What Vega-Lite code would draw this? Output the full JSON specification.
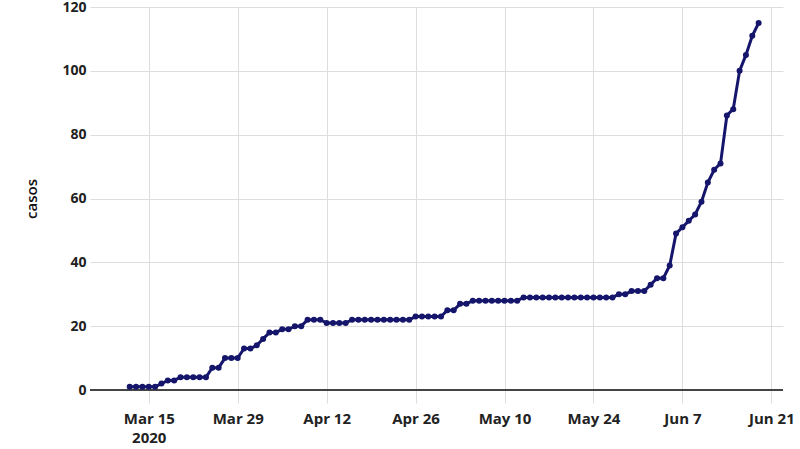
{
  "$schema": "https://vega.github.io/schema/vega-lite/v6.json",
  "width": 693,
  "height": 383,
  "autosize": {"type": "none"},
  "padding": {"left": 90, "top": 7, "right": 17, "bottom": 59},
  "background": "white",
  "config": {
    "view": {"stroke": null},
    "font": "Open Sans"
  },
  "data": {
    "values": [
      {"fecha": "2020-03-12", "casos": 1},
      {"fecha": "2020-03-13", "casos": 1},
      {"fecha": "2020-03-14", "casos": 1},
      {"fecha": "2020-03-15", "casos": 1},
      {"fecha": "2020-03-16", "casos": 1},
      {"fecha": "2020-03-17", "casos": 2},
      {"fecha": "2020-03-18", "casos": 3},
      {"fecha": "2020-03-19", "casos": 3},
      {"fecha": "2020-03-20", "casos": 4},
      {"fecha": "2020-03-21", "casos": 4},
      {"fecha": "2020-03-22", "casos": 4},
      {"fecha": "2020-03-23", "casos": 4},
      {"fecha": "2020-03-24", "casos": 4},
      {"fecha": "2020-03-25", "casos": 7},
      {"fecha": "2020-03-26", "casos": 7},
      {"fecha": "2020-03-27", "casos": 10},
      {"fecha": "2020-03-28", "casos": 10},
      {"fecha": "2020-03-29", "casos": 10},
      {"fecha": "2020-03-30", "casos": 13},
      {"fecha": "2020-03-31", "casos": 13},
      {"fecha": "2020-04-01", "casos": 14},
      {"fecha": "2020-04-02", "casos": 16},
      {"fecha": "2020-04-03", "casos": 18},
      {"fecha": "2020-04-04", "casos": 18},
      {"fecha": "2020-04-05", "casos": 19},
      {"fecha": "2020-04-06", "casos": 19},
      {"fecha": "2020-04-07", "casos": 20},
      {"fecha": "2020-04-08", "casos": 20},
      {"fecha": "2020-04-09", "casos": 22},
      {"fecha": "2020-04-10", "casos": 22},
      {"fecha": "2020-04-11", "casos": 22},
      {"fecha": "2020-04-12", "casos": 21},
      {"fecha": "2020-04-13", "casos": 21},
      {"fecha": "2020-04-14", "casos": 21},
      {"fecha": "2020-04-15", "casos": 21},
      {"fecha": "2020-04-16", "casos": 22},
      {"fecha": "2020-04-17", "casos": 22},
      {"fecha": "2020-04-18", "casos": 22},
      {"fecha": "2020-04-19", "casos": 22},
      {"fecha": "2020-04-20", "casos": 22},
      {"fecha": "2020-04-21", "casos": 22},
      {"fecha": "2020-04-22", "casos": 22},
      {"fecha": "2020-04-23", "casos": 22},
      {"fecha": "2020-04-24", "casos": 22},
      {"fecha": "2020-04-25", "casos": 22},
      {"fecha": "2020-04-26", "casos": 23},
      {"fecha": "2020-04-27", "casos": 23},
      {"fecha": "2020-04-28", "casos": 23},
      {"fecha": "2020-04-29", "casos": 23},
      {"fecha": "2020-04-30", "casos": 23},
      {"fecha": "2020-05-01", "casos": 25},
      {"fecha": "2020-05-02", "casos": 25},
      {"fecha": "2020-05-03", "casos": 27},
      {"fecha": "2020-05-04", "casos": 27},
      {"fecha": "2020-05-05", "casos": 28},
      {"fecha": "2020-05-06", "casos": 28},
      {"fecha": "2020-05-07", "casos": 28},
      {"fecha": "2020-05-08", "casos": 28},
      {"fecha": "2020-05-09", "casos": 28},
      {"fecha": "2020-05-10", "casos": 28},
      {"fecha": "2020-05-11", "casos": 28},
      {"fecha": "2020-05-12", "casos": 28},
      {"fecha": "2020-05-13", "casos": 29},
      {"fecha": "2020-05-14", "casos": 29},
      {"fecha": "2020-05-15", "casos": 29},
      {"fecha": "2020-05-16", "casos": 29},
      {"fecha": "2020-05-17", "casos": 29},
      {"fecha": "2020-05-18", "casos": 29},
      {"fecha": "2020-05-19", "casos": 29},
      {"fecha": "2020-05-20", "casos": 29},
      {"fecha": "2020-05-21", "casos": 29},
      {"fecha": "2020-05-22", "casos": 29},
      {"fecha": "2020-05-23", "casos": 29},
      {"fecha": "2020-05-24", "casos": 29},
      {"fecha": "2020-05-25", "casos": 29},
      {"fecha": "2020-05-26", "casos": 29},
      {"fecha": "2020-05-27", "casos": 29},
      {"fecha": "2020-05-28", "casos": 30},
      {"fecha": "2020-05-29", "casos": 30},
      {"fecha": "2020-05-30", "casos": 31},
      {"fecha": "2020-05-31", "casos": 31},
      {"fecha": "2020-06-01", "casos": 31},
      {"fecha": "2020-06-02", "casos": 33},
      {"fecha": "2020-06-03", "casos": 35},
      {"fecha": "2020-06-04", "casos": 35},
      {"fecha": "2020-06-05", "casos": 39},
      {"fecha": "2020-06-06", "casos": 49},
      {"fecha": "2020-06-07", "casos": 51},
      {"fecha": "2020-06-08", "casos": 53},
      {"fecha": "2020-06-09", "casos": 55},
      {"fecha": "2020-06-10", "casos": 59},
      {"fecha": "2020-06-11", "casos": 65},
      {"fecha": "2020-06-12", "casos": 69},
      {"fecha": "2020-06-13", "casos": 71},
      {"fecha": "2020-06-14", "casos": 86},
      {"fecha": "2020-06-15", "casos": 88},
      {"fecha": "2020-06-16", "casos": 100},
      {"fecha": "2020-06-17", "casos": 105},
      {"fecha": "2020-06-18", "casos": 111},
      {"fecha": "2020-06-19", "casos": 115}
    ]
  },
  "layer": [
    {
      "mark": {"type": "rule", "color": "#444444", "strokeWidth": 1.5},
      "encoding": {"y": {"datum": 0, "type": "quantitative"}}
    },
    {
      "mark": {"type": "line", "color": "#15166b", "strokeWidth": 3, "point": {"filled": true, "color": "#15166b", "size": 36, "opacity": 1}},
      "encoding": {
        "x": {
          "field": "fecha",
          "type": "temporal",
          "scale": {"domain": ["2020-03-05T18:00:00", "2020-06-22T20:00:00"]},
          "axis": {
            "title": null,
            "values": [
              {"year": 2020, "month": 3, "date": 15},
              {"year": 2020, "month": 3, "date": 29},
              {"year": 2020, "month": 4, "date": 12},
              {"year": 2020, "month": 4, "date": 26},
              {"year": 2020, "month": 5, "date": 10},
              {"year": 2020, "month": 5, "date": 24},
              {"year": 2020, "month": 6, "date": 7},
              {"year": 2020, "month": 6, "date": 21}
            ],
            "labelExpr": "(month(datum.value) == 2 && date(datum.value) == 15) ? [timeFormat(datum.value, '%b %-d'), '2020'] : timeFormat(datum.value, '%b %-d')",
            "grid": true,
            "gridColor": "#dddddd",
            "gridWidth": 1,
            "domain": false,
            "ticks": true,
            "tickColor": "#dddddd",
            "tickSize": 13,
            "labelPadding": 8,
            "labelFont": "Open Sans",
            "labelFontSize": 15,
            "labelFontWeight": "bold",
            "labelColor": "#222222",
            "labelLineHeight": 19
          }
        },
        "y": {
          "field": "casos",
          "type": "quantitative",
          "scale": {"domain": [0, 120], "nice": false},
          "axis": {
            "title": "casos",
            "titleFont": "Open Sans",
            "titleFontSize": 15,
            "titleFontWeight": 600,
            "titleColor": "#111111",
            "titlePadding": 22,
            "values": [0, 20, 40, 60, 80, 100, 120],
            "grid": true,
            "gridColor": "#dddddd",
            "gridWidth": 1,
            "domain": false,
            "ticks": false,
            "labelPadding": 4,
            "labelFont": "Open Sans",
            "labelFontSize": 14,
            "labelFontWeight": "bold",
            "labelColor": "#222222"
          }
        }
      }
    }
  ]
}
